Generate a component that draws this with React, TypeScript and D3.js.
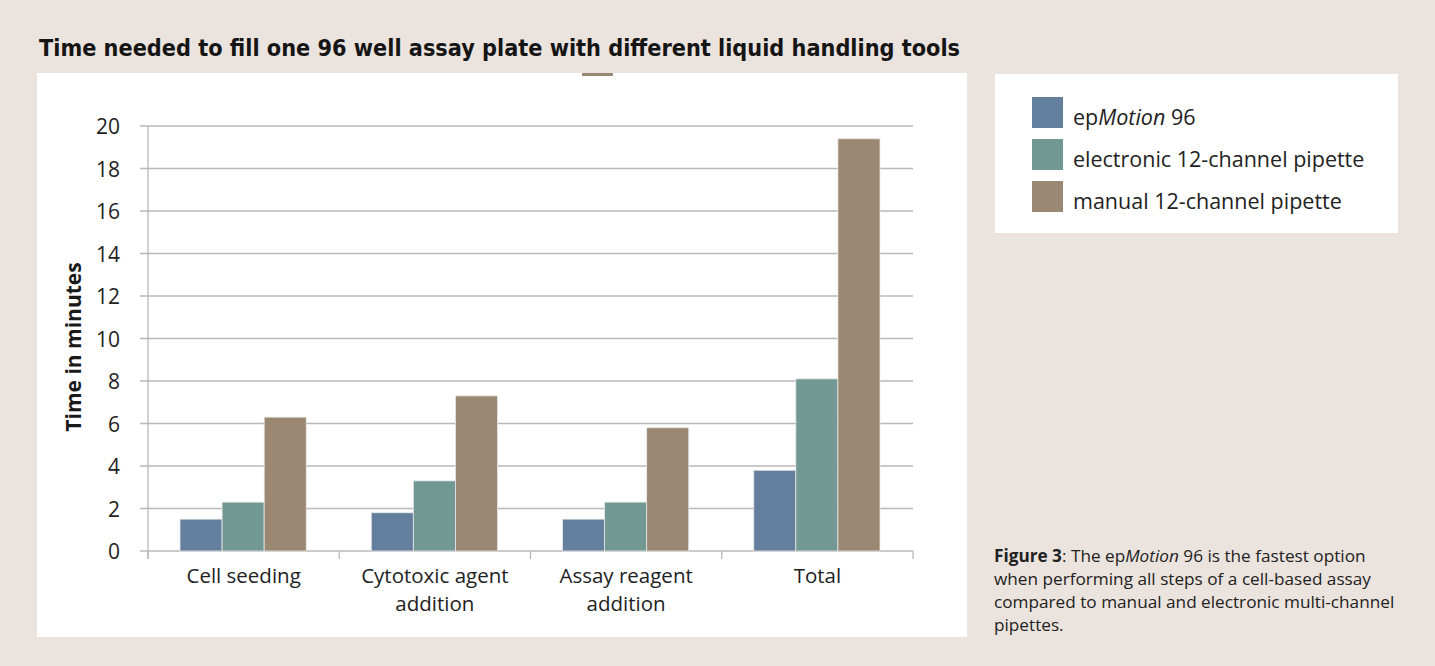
import * as d3 from "d3";
import { useEffect, useRef } from "react";

const categories = [["Cell seeding"], ["Cytotoxic agent", "addition"], ["Assay reagent", "addition"], ["Total"]];
const seriesNames = ["epMotion 96", "electronic 12-channel pipette", "manual 12-channel pipette"];
const epMotion = [1.5, 1.8, 1.5, 3.8];
const electronic = [2.3, 3.3, 2.3, 8.1];
const manual = [6.3, 7.3, 5.8, 19.4];
const yTicks = [0, 2, 4, 6, 8, 10, 12, 14, 16, 18, 20];
const colors = ["#647f9e", "#729893", "#9a8872"];
const captionLines = [
  "when performing all steps of a cell-based assay",
  "compared to manual and electronic multi-channel",
  "pipettes."
];

const W = 1435;
const H = 666;
const FONT = "'Open Sans', 'Noto Sans', sans-serif";
const TITLE_FONT = "'Liberation Sans Narrow', 'DejaVu Sans Condensed', 'Open Sans', sans-serif";

const App = () => {
  const ref = useRef(null);

  useEffect(() => {
    const svg = d3.select(ref.current);
    svg.selectAll("*").remove();

    svg.append("rect").attr("width", W).attr("height", H).attr("fill", "#ebe3dd");

    // title
    svg.append("text")
      .attr("x", 39).attr("y", 56)
      .attr("font-family", TITLE_FONT).attr("font-weight", 700).attr("font-size", 23)
      .attr("fill", "#151515")
      .attr("textLength", 921).attr("lengthAdjust", "spacingAndGlyphs")
      .text("Time needed to fill one 96 well assay plate with different liquid handling tools");

    // chart panel
    svg.append("rect").attr("x", 37).attr("y", 73).attr("width", 930).attr("height", 564).attr("fill", "#fff");

    // leftover legend swatch peeking at top of panel
    svg.append("rect").attr("x", 582).attr("y", 73).attr("width", 31).attr("height", 3).attr("fill", colors[2]);

    const x = d3.scaleBand().domain(categories.map(c => c.join(" "))).range([148, 913]);
    const xs = d3.scaleBand().domain(seriesNames).range([32, x.bandwidth() - 33]);
    const y = d3.scaleLinear().domain([0, 20]).range([551, 126]);

    // gridlines
    svg.append("g").selectAll("line").data(yTicks).enter().append("line")
      .attr("x1", 140).attr("x2", 913)
      .attr("y1", d => y(d)).attr("y2", d => y(d))
      .attr("stroke", "#b9b9b9").attr("stroke-width", 1.3);

    // bars
    const values = [epMotion, electronic, manual];
    values.forEach((vals, si) => {
      svg.append("g").selectAll("rect").data(vals).enter().append("rect")
        .attr("x", (d, i) => x(categories[i].join(" ")) + xs(seriesNames[si]))
        .attr("y", d => y(d))
        .attr("width", xs.bandwidth())
        .attr("height", d => y(0) - y(d))
        .attr("fill", colors[si])
        .attr("stroke", "#e8e8e8").attr("stroke-width", 0.8);
    });

    // y axis
    const yAxis = d3.axisLeft(y).tickValues(yTicks).tickSize(8).tickPadding(20).tickSizeOuter(0);
    const gy = svg.append("g").attr("transform", "translate(148,0)").call(yAxis);
    gy.select(".domain").attr("stroke", "#b9b9b9").attr("stroke-width", 1.3).attr("d", "M0,126V559");
    gy.selectAll(".tick line").remove();
    gy.selectAll("text").attr("font-family", FONT).attr("font-size", 21).attr("fill", "#222").attr("dy", "0.36em");

    // x axis ticks at band edges
    const edges = x.domain().map(d => x(d)).concat([913]);
    svg.append("g").selectAll("line").data(edges).enter().append("line")
      .attr("x1", d => d).attr("x2", d => d).attr("y1", 551).attr("y2", 559)
      .attr("stroke", "#b9b9b9").attr("stroke-width", 1.3);

    categories.forEach(lines => {
      const cx = x(lines.join(" ")) + x.bandwidth() / 2;
      lines.forEach((l, i) => {
        svg.append("text")
          .attr("x", cx).attr("y", 583 + i * 28)
          .attr("text-anchor", "middle").attr("font-family", FONT).attr("font-size", 20.5).attr("fill", "#222")
          .text(l);
      });
    });

    // y axis title
    svg.append("text")
      .attr("transform", "translate(81,347) rotate(-90)")
      .attr("text-anchor", "middle").attr("font-family", FONT).attr("font-weight", 700).attr("font-size", 21)
      .attr("fill", "#1a1a1a").text("Time in minutes");

    // legend
    svg.append("rect").attr("x", 995).attr("y", 74).attr("width", 403).attr("height", 159).attr("fill", "#fff");
    seriesNames.forEach((s, i) => {
      svg.append("rect").attr("x", 1032).attr("y", 97 + i * 42).attr("width", 31).attr("height", 31).attr("fill", colors[i]);
      const t = svg.append("text").attr("x", 1073).attr("y", 125 + i * 42)
        .attr("font-family", FONT).attr("font-size", 21.5).attr("fill", "#222");
      if (i === 0) {
        t.append("tspan").text("ep");
        t.append("tspan").attr("font-style", "italic").text("Motion");
        t.append("tspan").text(" 96");
      } else {
        t.text(s);
      }
    });

    // caption
    const cap = svg.append("g").attr("font-family", FONT).attr("font-size", 17.2).attr("fill", "#222");
    const first = cap.append("text").attr("x", 994).attr("y", 562);
    first.append("tspan").attr("font-weight", 700).text("Figure 3");
    first.append("tspan").text(": The ep");
    first.append("tspan").attr("font-style", "italic").text("Motion");
    first.append("tspan").text(" 96 is the fastest option");
    captionLines.forEach((l, i) => cap.append("text").attr("x", 994).attr("y", 585 + i * 23).text(l));
  }, []);

  return <svg ref={ref} width={W} height={H} style={{ position: "absolute", left: 0, top: 0 }} />;
};

export default App;
